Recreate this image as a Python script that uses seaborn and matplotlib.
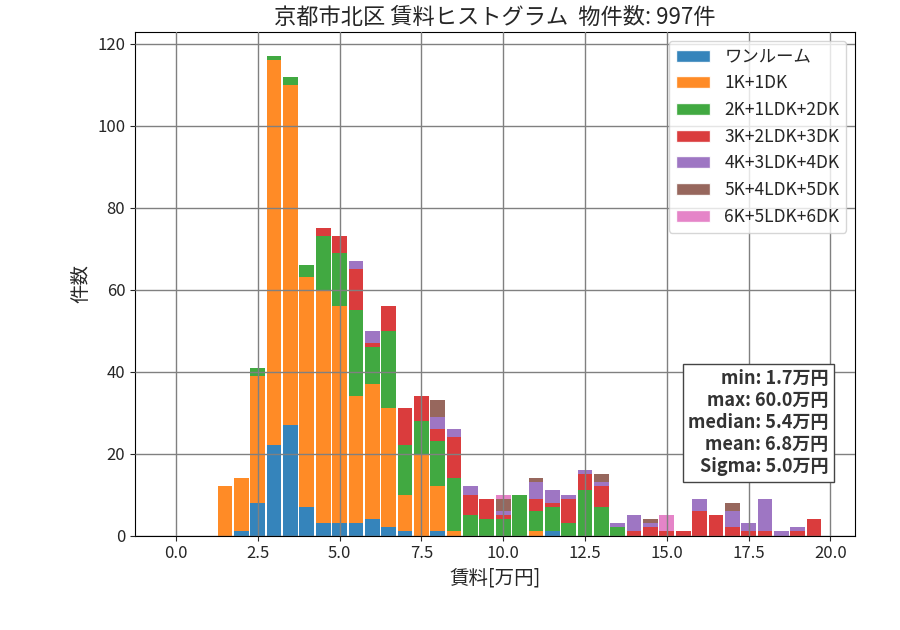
import numpy as np
import pandas as pd
import seaborn as sns
import matplotlib.pyplot as plt
from matplotlib.patches import Patch

# 家賃の区切り(0.5万円ごとの中心)
rent_centers = np.arange(0.0, 20.0, 0.5)

room_types = ["ワンルーム", "1K+1DK", "2K+1LDK+2DK", "3K+2LDK+3DK",
              "4K+3LDK+4DK", "5K+4LDK+5DK", "6K+5LDK+6DK"]

one_room = [0, 0, 0, 0, 1, 8, 22, 27, 7, 3, 3, 3, 4, 2, 1, 0, 1, 0, 0, 0,
            0, 0, 0, 1, 0, 0, 0, 0, 0, 0, 0, 0, 0, 0, 0, 0, 0, 0, 0, 0]
k1 = [0, 0, 0, 12, 13, 31, 94, 83, 56, 57, 53, 31, 33, 29, 9, 20, 11, 1, 0, 0,
      0, 0, 1, 0, 0, 0, 0, 0, 0, 0, 0, 0, 0, 0, 0, 0, 0, 0, 0, 0]
k2 = [0, 0, 0, 0, 0, 2, 1, 2, 3, 13, 13, 21, 9, 19, 12, 8, 11, 13, 5, 4,
      4, 10, 5, 6, 3, 11, 7, 2, 0, 0, 0, 0, 0, 0, 0, 0, 0, 0, 0, 0]
k3 = [0, 0, 0, 0, 0, 0, 0, 0, 0, 2, 4, 10, 1, 6, 9, 6, 3, 10, 5, 5,
      1, 0, 3, 1, 6, 4, 5, 0, 1, 2, 1, 1, 6, 5, 2, 1, 1, 0, 1, 4]
k4 = [0, 0, 0, 0, 0, 0, 0, 0, 0, 0, 0, 2, 3, 0, 0, 0, 3, 2, 2, 0,
      1, 0, 4, 3, 1, 1, 1, 1, 4, 1, 0, 0, 3, 0, 4, 2, 8, 1, 1, 0]
k5 = [0, 0, 0, 0, 0, 0, 0, 0, 0, 0, 0, 0, 0, 0, 0, 0, 4, 0, 0, 0,
      3, 0, 1, 0, 0, 0, 2, 0, 0, 1, 0, 0, 0, 0, 2, 0, 0, 0, 0, 0]
k6 = [0, 0, 0, 0, 0, 0, 0, 0, 0, 0, 0, 0, 0, 0, 0, 0, 0, 0, 0, 0,
      1, 0, 0, 0, 0, 0, 0, 0, 0, 0, 4, 0, 0, 0, 0, 0, 0, 0, 0, 0]

total_count = 997
stats_text = "min: 1.7万円\nmax: 60.0万円\nmedian: 5.4万円\nmean: 6.8万円\nSigma: 5.0万円"

counts = [one_room, k1, k2, k3, k4, k5, k6]
frames = [pd.DataFrame({"rent": rent_centers, "type": t, "count": c})
          for t, c in zip(room_types, counts)]
df = pd.concat(frames, ignore_index=True)

colors = sns.color_palette("tab10", len(room_types))
palette = dict(zip(room_types, colors))

sns.set_style("ticks")
plt.rcParams['font.family'] = ['Noto Sans CJK JP', 'DejaVu Sans']

fig, ax = plt.subplots(figsize=(9, 6.3), dpi=100)
fig.subplots_adjust(left=0.15, right=0.95, top=0.949, bottom=0.15)

# seaborn は後の水準を下に積むので順序を反転
sns.histplot(data=df, x="rent", hue="type", weights="count",
             hue_order=room_types[::-1], palette=palette,
             multiple="stack", binwidth=0.5, binrange=(-0.25, 19.75),
             shrink=0.9, alpha=0.9, linewidth=0, legend=False, ax=ax)

ax.set_xlim(-1.25, 20.75)
ax.set_ylim(0, None)
ax.grid(True, color="gray", linewidth=1)
ax.set_axisbelow(False)
for s in ax.spines.values():
    s.set_color("black")

ax.set_title(f"京都市北区 賃料ヒストグラム  物件数: {total_count}件", fontsize=16)
ax.set_xlabel("賃料[万円]", fontsize=14)
ax.set_ylabel("件数", fontsize=14)
ax.tick_params(labelsize=12)

handles = [Patch(facecolor=palette[t], alpha=0.9, label=t) for t in room_types]
ax.legend(handles=handles, loc="upper right", fontsize=12.5, labelspacing=0.5)

ax.text(0.963, 0.118, stats_text, transform=ax.transAxes, ha="right", va="bottom",
        fontsize=13, fontweight="bold", color="#333333", linespacing=1.2,
        bbox=dict(facecolor="white", edgecolor="#444444", boxstyle="square,pad=0.3"))

fig.savefig("out.png")
